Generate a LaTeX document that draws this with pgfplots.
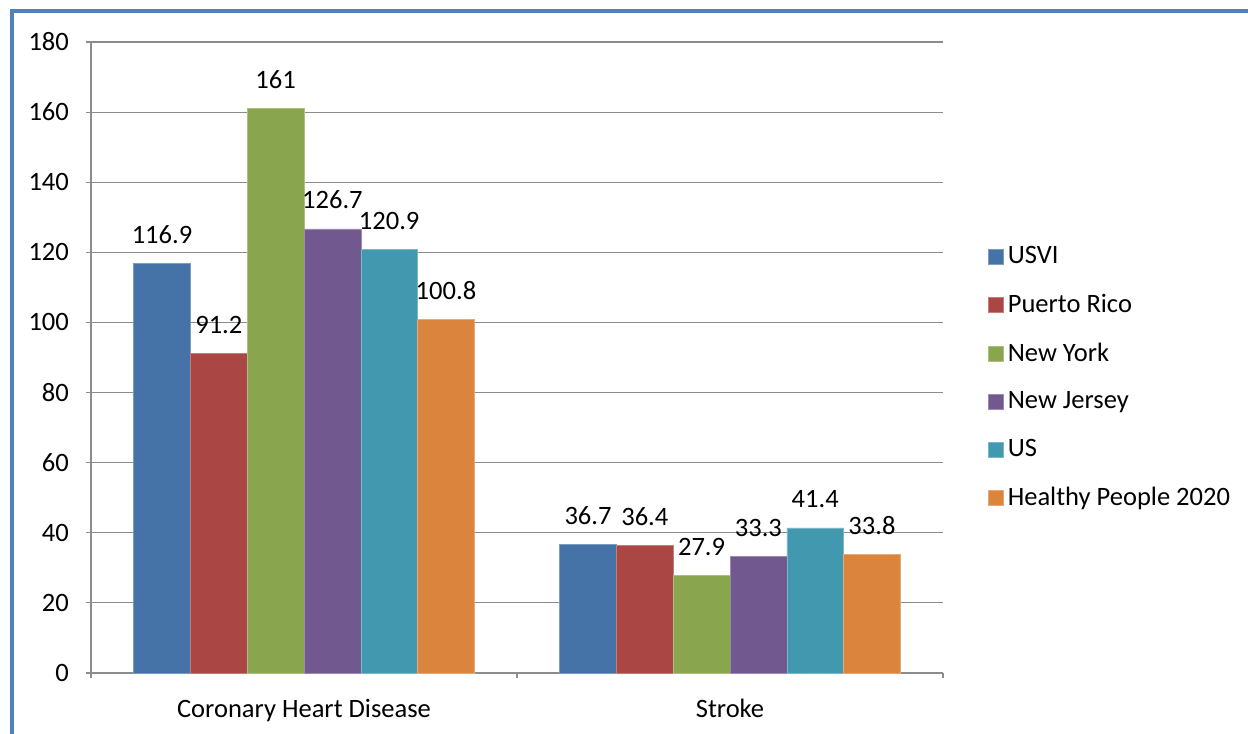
\documentclass[border=0pt]{standalone}
\usepackage{pgfplots}
\pgfplotsset{compat=1.18}
\usepackage{fontspec}
\setmainfont{Carlito}
\definecolor{cA}{HTML}{4572A7}
\definecolor{cB}{HTML}{AA4643}
\definecolor{cC}{HTML}{89A54E}
\definecolor{cD}{HTML}{71588F}
\definecolor{cE}{HTML}{4198AF}
\definecolor{cF}{HTML}{DB843D}
\definecolor{gridgray}{HTML}{8C8C8C}
\definecolor{frameblue}{HTML}{4F81BD}
\begin{document}
\fontsize{19.9}{23}\selectfont
\begin{tikzpicture}
\path[use as bounding box] (0,0) rectangle (936pt,550.5pt);
\draw[frameblue, line width=3pt] (9pt,0) -- (9pt,541.9pt) -- (936pt,541.9pt);
\begin{axis}[
  at={(68.25pt,45.75pt)}, anchor=south west,
  scale only axis, width=639pt, height=473.25pt,
  ymin=0, ymax=180, ytick={0,20,...,180},
  xmin=-0.5, xmax=1.5,
  ybar=0pt, bar width=0.1333,
  axis lines=left, axis line style={-, draw=gridgray, line width=0.9pt},
  ymajorgrids, grid style={gridgray, line width=0.9pt},
  tick align=outside, major tick length=3.75pt,
  tick style={gridgray, line width=0.9pt},
  xtick={-0.5,0.5,1.5}, xticklabels={},
  extra x ticks={0,1},
  extra x tick labels={Coronary Heart Disease,Stroke},
  extra x tick style={tick style={draw=none}, grid=none,
     xticklabel style={yshift=-9pt}},
  /pgf/number format/assume math mode=true,
  ticklabel style={font=\fontsize{19.9}{23}\selectfont, text=black},
  yticklabel style={xshift=-6pt},
  nodes near coords,
  every node near coord/.append style={font=\fontsize{19.9}{23}\selectfont, text=black, yshift=8pt,
     /pgf/number format/assume math mode=true},
  point meta=explicit symbolic,
  legend style={at={(1.052,0.681)}, anchor=north west, draw=none, fill=none,
     font=\fontsize{19.9}{23}\selectfont, row sep=15.9pt, inner sep=0pt},
  legend cell align=left,
  legend image code/.code={\fill[#1] (0pt,-5.6pt) rectangle (11.25pt,5.6pt); \path (12.75pt,0pt);},
  clip=false,
]
\addplot[fill=cA, draw=cA!70!white, line width=0.4pt] coordinates {(0,116.9)[116.9] (1,36.7)[36.7]};
\addplot[fill=cB, draw=cB!70!white, line width=0.4pt] coordinates {(0,91.2)[91.2] (1,36.4)[36.4]};
\addplot[fill=cC, draw=cC!70!white, line width=0.4pt] coordinates {(0,161)[161] (1,27.9)[27.9]};
\addplot[fill=cD, draw=cD!70!white, line width=0.4pt] coordinates {(0,126.7)[126.7] (1,33.3)[33.3]};
\addplot[fill=cE, draw=cE!70!white, line width=0.4pt] coordinates {(0,120.9)[120.9] (1,41.4)[41.4]};
\addplot[fill=cF, draw=cF!70!white, line width=0.4pt] coordinates {(0,100.8)[100.8] (1,33.8)[33.8]};
\legend{USVI,Puerto Rico,New York,New Jersey,US,Healthy People 2020}
\end{axis}
\end{tikzpicture}
\end{document}
